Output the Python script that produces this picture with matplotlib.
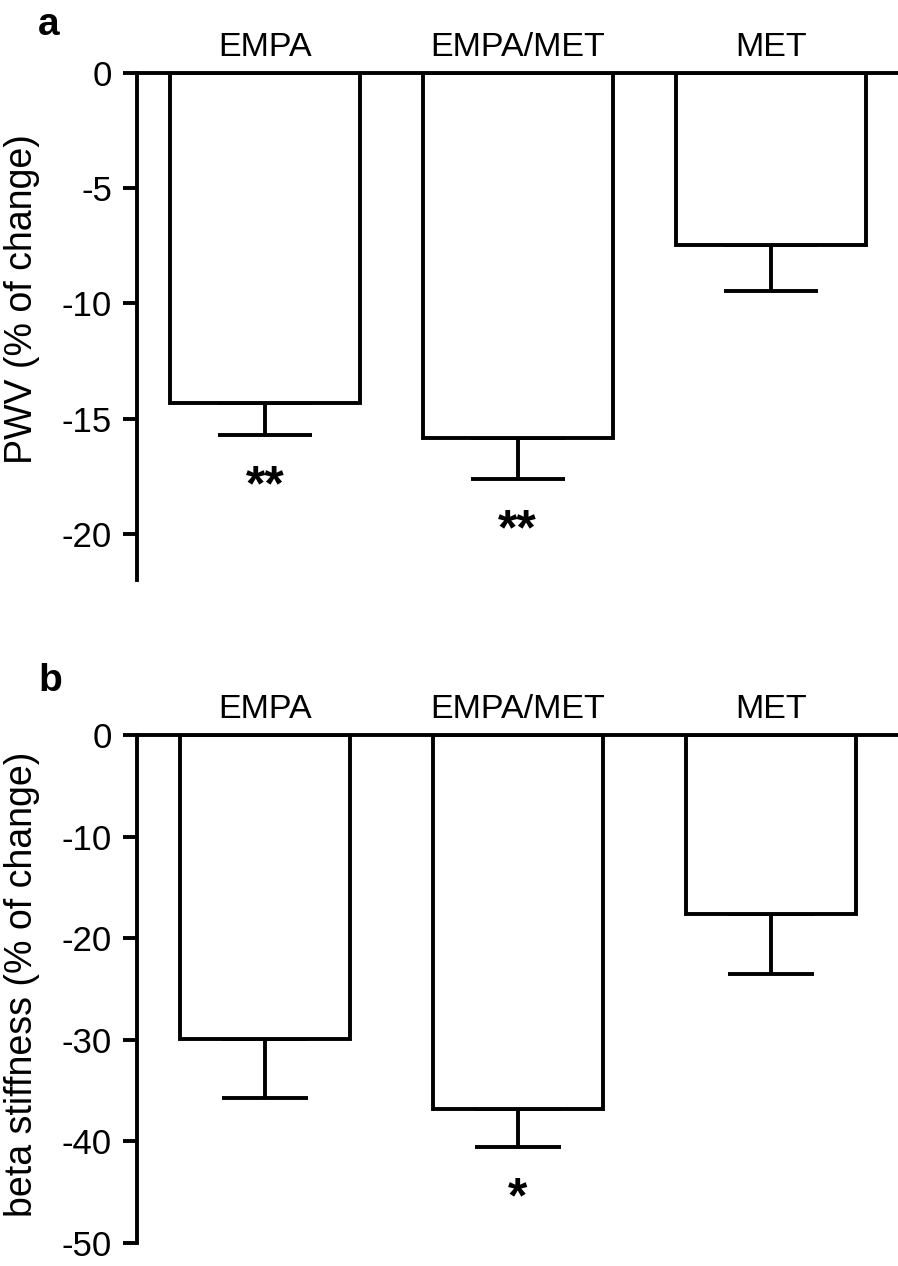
import numpy as np
import matplotlib
matplotlib.use('Agg')
import matplotlib.pyplot as plt

plt.rcParams['font.family'] = ['Liberation Sans', 'DejaVu Sans']
plt.rcParams['axes.unicode_minus'] = False

# data
groups = ['EMPA', 'EMPA/MET', 'MET']

pwv_mean = [-14.3, -15.85, -7.45]
pwv_err = [1.4, 1.75, 2.0]
pwv_sig = ['**', '**', '']

beta_mean = [-29.9, -36.8, -17.6]
beta_err = [5.8, 3.8, 5.9]
beta_sig = ['', '*', '']

lw = 2.8   # about 4 px at 100 dpi

fig = plt.figure(figsize=(8.98, 12.66), dpi=100)
ax1 = fig.add_axes([137 / 898, 1 - 580 / 1266, 761 / 898, 507 / 1266])
ax2 = fig.add_axes([137 / 898, 1 - 1243 / 1266, 761 / 898, 508 / 1266])


def draw_panel(ax, means, errs, sig, width, capsize, ylim, yticks, ylabel, label_y):
    x = np.arange(len(groups))
    ax.bar(x, means, width=width, color='white', edgecolor='black', linewidth=lw, zorder=2)
    lower = np.array(errs)
    ax.errorbar(x, means, yerr=[lower, np.zeros(len(errs))], fmt='none', ecolor='black',
                elinewidth=lw, capsize=capsize, capthick=lw, zorder=1)
    ax.axhline(0, color='black', linewidth=lw, clip_on=False, zorder=3)

    # significance stars under the error bars
    for xi, m, e, s in zip(x, means, errs, sig):
        if s:
            ax.annotate(s, xy=(xi, m - e), xytext=(0, -47), textcoords='offset points',
                        ha='center', va='baseline', fontsize=36, fontweight='bold')

    # group names above the zero line
    for xi, g in zip(x, groups):
        ax.annotate(g, xy=(xi, 0), xytext=(0, 12), textcoords='offset points',
                    ha='center', va='baseline', fontsize=24.5, annotation_clip=False)

    ax.set_xlim(-0.506, 2.504)
    ax.set_ylim(*ylim)
    ax.set_yticks(yticks)
    ax.set_xticks([])
    for side in ['top', 'right', 'bottom']:
        ax.spines[side].set_visible(False)
    ax.spines['left'].set_linewidth(lw)
    ax.tick_params(axis='y', length=10, width=lw, pad=8, labelsize=25)
    ax.set_ylabel(ylabel, fontsize=27)
    ax.yaxis.set_label_coords(-0.128, label_y)
    ax.patch.set_visible(False)


draw_panel(ax1, pwv_mean, pwv_err, pwv_sig, 0.752, 34, (-22, 0), [0, -5, -10, -15, -20],
           'PWV (% of change)', (22 - 9.8) / 22)
draw_panel(ax2, beta_mean, beta_err, beta_sig, 0.673, 31, (-50, 0), [0, -10, -20, -30, -40, -50],
           'beta stiffness (% of change)', (50 - 24.5) / 50)

fig.text(38 / 898, 1 - 35 / 1266, 'a', fontsize=28, fontweight='bold', va='baseline')
fig.text(38 / 898, 1 - 691 / 1266, 'b', fontsize=28, fontweight='bold', va='baseline')

fig.savefig('out.png', dpi=100)
